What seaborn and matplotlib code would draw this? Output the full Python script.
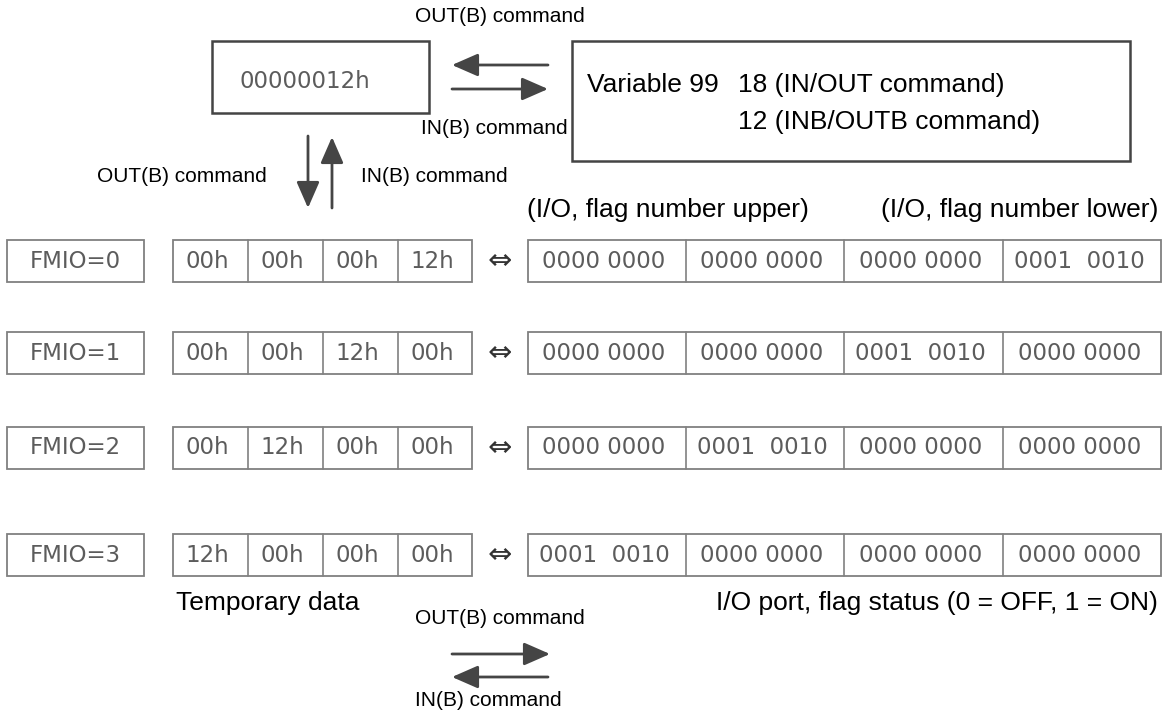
import matplotlib
matplotlib.use('Agg')
import matplotlib.pyplot as plt
from matplotlib.patches import Rectangle
import seaborn as sns

sns.set_theme(style='white')
plt.rcParams['font.family'] = ['Liberation Sans', 'DejaVu Sans']

# Inhalte des Diagramms
fmio_labels = ['FMIO=0', 'FMIO=1', 'FMIO=2', 'FMIO=3']
temp_bytes = [
    ['00h', '00h', '00h', '12h'],
    ['00h', '00h', '12h', '00h'],
    ['00h', '12h', '00h', '00h'],
    ['12h', '00h', '00h', '00h'],
]
bit_groups = [
    ['0000 0000', '0000 0000', '0000 0000', '0001  0010'],
    ['0000 0000', '0000 0000', '0001  0010', '0000 0000'],
    ['0000 0000', '0001  0010', '0000 0000', '0000 0000'],
    ['0001  0010', '0000 0000', '0000 0000', '0000 0000'],
]
register_value = '00000012h'
variable_lines = ['18 (IN/OUT command)', '12 (INB/OUTB command)']
out_label = 'OUT(B) command'
in_label = 'IN(B) command'

# Layout (Pixel)
row_y = [261, 353, 448, 555]
row_h = 42
temp_x = [173, 248, 323, 398, 472]
bits_x = [528, 686, 844, 1003, 1162]

edge_dark = '#444444'
edge_light = '#808080'
cell_txt = '#5c5c5c'
arrow_col = '#454545'
big = 19
small = 15
mono = dict(family='DejaVu Sans', fontsize=16.5, color=cell_txt)

fig = plt.figure(figsize=(11.63, 7.12), dpi=100)
ax = fig.add_axes([0, 0, 1, 1])
ax.set_xlim(0, 1163)
ax.set_ylim(712, 0)
ax.set_axis_off()


def arrow(x0, y0, x1, y1):
    ax.annotate('', xy=(x1, y1), xytext=(x0, y0),
                arrowprops=dict(arrowstyle='-|>,head_length=16,head_width=7',
                                mutation_scale=1, lw=2, color=arrow_col,
                                shrinkA=0, shrinkB=0))


# oberer Bereich
ax.add_patch(Rectangle((212, 41), 217, 72, fill=False, ec=edge_dark, lw=1.8))
ax.text(305, 82, register_value, ha='center', va='center', **mono)

ax.add_patch(Rectangle((572, 41), 558, 120, fill=False, ec=edge_dark, lw=1.8))
ax.text(587, 85, 'Variable 99', ha='left', va='center', fontsize=big, color='black')
ax.text(738, 85, variable_lines[0], ha='left', va='center', fontsize=big, color='black')
ax.text(738, 122, variable_lines[1], ha='left', va='center', fontsize=big, color='black')

ax.text(415, 17, out_label, ha='left', va='center', fontsize=small, color='black')
arrow(548, 65, 452, 65)
arrow(452, 89, 548, 89)
ax.text(421, 129, in_label, ha='left', va='center', fontsize=small, color='black')

ax.text(267, 177, out_label, ha='right', va='center', fontsize=small, color='black')
arrow(308, 136, 308, 208)
arrow(332, 208, 332, 137)
ax.text(361, 177, in_label, ha='left', va='center', fontsize=small, color='black')

ax.text(527, 210, '(I/O, flag number upper)', ha='left', va='center', fontsize=big, color='black')
ax.text(1158, 210, '(I/O, flag number lower)', ha='right', va='center', fontsize=big, color='black')

# Zeilen FMIO=0..3
for i, yc in enumerate(row_y):
    top = yc - row_h / 2
    ax.add_patch(Rectangle((7, top), 137, row_h, fill=False, ec=edge_light, lw=1.3))
    ax.text(75.5, yc, fmio_labels[i], ha='center', va='center', **mono)

    ax.add_patch(Rectangle((temp_x[0], top), temp_x[-1] - temp_x[0], row_h,
                           fill=False, ec=edge_light, lw=1.3))
    for j in range(4):
        if j > 0:
            ax.plot([temp_x[j], temp_x[j]], [top, top + row_h], color=edge_light, lw=1.2)
        xc = (temp_x[j] + temp_x[j + 1]) / 2 - 3
        ax.text(xc, yc, temp_bytes[i][j], ha='center', va='center', **mono)

    ax.text(500, yc, '\u21d4', ha='center', va='center', family='DejaVu Sans',
            fontsize=21, color='#333333')

    ax.add_patch(Rectangle((bits_x[0], top), bits_x[-1] - bits_x[0] - 1, row_h,
                           fill=False, ec=edge_light, lw=1.3))
    for j in range(4):
        if j > 0:
            ax.plot([bits_x[j], bits_x[j]], [top, top + row_h], color=edge_light, lw=1.2)
        xc = (bits_x[j] + bits_x[j + 1]) / 2 - 3
        ax.text(xc, yc, bit_groups[i][j], ha='center', va='center', **mono)

# unterer Bereich
ax.text(176, 603, 'Temporary data', ha='left', va='center', fontsize=big, color='black')
ax.text(1158, 603, 'I/O port, flag status (0 = OFF, 1 = ON)', ha='right', va='center',
        fontsize=big, color='black')
ax.text(415, 619, out_label, ha='left', va='center', fontsize=small, color='black')
arrow(452, 654, 550, 654)
arrow(548, 677, 452, 677)
ax.text(415, 700, in_label, ha='left', va='center', fontsize=small, color='black')

fig.savefig('out.png', dpi=100, facecolor='white')
